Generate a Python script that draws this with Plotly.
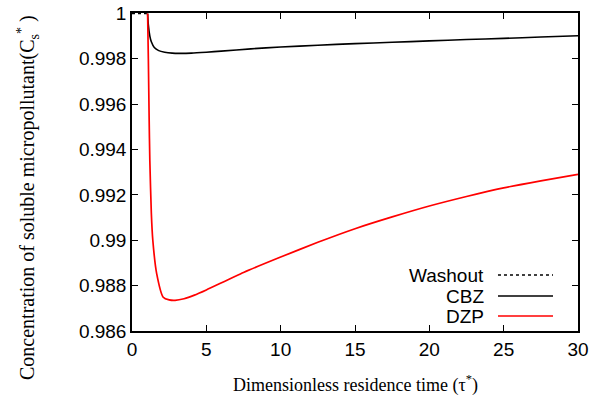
import plotly.graph_objects as go

# ---- data ----
washout_tau = [0.0, 1.0]
washout_c = [1.0, 1.0]

cbz_tau = [1.05, 1.1, 1.2, 1.3, 1.5, 1.8, 2.2, 2.7, 3.2, 4.0, 5.0, 6.0, 8.0, 10.0, 12.5, 15.0,
           17.5, 20.0, 22.5, 25.0, 27.5, 30.0]
cbz_c = [1.0, 0.9995, 0.9990, 0.99875, 0.99850, 0.99836, 0.99829, 0.99825, 0.99824, 0.99825,
         0.99829, 0.99834, 0.99844, 0.99852, 0.99860, 0.99867, 0.99873, 0.99879, 0.99885,
         0.99890, 0.99896, 0.99902]

dzp_tau = [1.05, 1.1, 1.15, 1.2, 1.3, 1.4, 1.66, 2.1, 2.5, 2.9, 3.5, 4.2, 5.0, 7.5, 10.0,
           12.5, 15.0, 17.5, 20.0, 22.5, 25.0, 27.5, 30.0]
dzp_c = [1.0, 0.998, 0.9955, 0.9935, 0.9912, 0.9900, 0.98853, 0.98749, 0.98737, 0.98735, 0.98742,
         0.98758, 0.98781, 0.98858, 0.98926, 0.98991, 0.99051, 0.99103, 0.99151, 0.99193,
         0.99231, 0.99262, 0.99291]

x_ticks = [0, 5, 10, 15, 20, 25, 30]
y_ticks = [0.986, 0.988, 0.99, 0.992, 0.994, 0.996, 0.998, 1.0]
y_ticktext = ["0.986", "0.988", "0.99", "0.992", "0.994", "0.996", "0.998", "1"]

legend_names = ["Washout", "CBZ", "DZP"]
legend_colors = ["black", "black", "#ff0000"]
legend_dash = ["dot", "solid", "solid"]

fig = go.Figure()
fig.add_trace(go.Scatter(x=washout_tau, y=washout_c, mode="lines",
                         line=dict(color="black", width=1.5, dash="dot"), name="Washout"))
fig.add_trace(go.Scatter(x=cbz_tau, y=cbz_c, mode="lines",
                         line=dict(color="black", width=1.6, shape="spline", smoothing=0.6),
                         name="CBZ"))
fig.add_trace(go.Scatter(x=dzp_tau, y=dzp_c, mode="lines",
                         line=dict(color="#ff0000", width=1.7, shape="spline", smoothing=0.6),
                         name="DZP"))

# manual gnuplot-style legend (text left, sample right)
rows_y = [0.176, 0.110, 0.047]
for name, col, dash, yy in zip(legend_names, legend_colors, legend_dash, rows_y):
    fig.add_annotation(xref="paper", yref="paper", x=0.7937, y=yy, text=name, showarrow=False,
                       xanchor="right", yanchor="middle",
                       font=dict(family="Liberation Sans, Arial", size=19, color="black"))
    fig.add_shape(type="line", xref="paper", yref="paper", x0=0.8206, x1=0.944, y0=yy, y1=yy,
                  line=dict(color=col, width=1.6, dash=dash))

fig.add_annotation(xref="paper", yref="paper", x=(355 - 132) / 446, y=(331 - 384) / 318,
                   text="Dimensionless residence time (τ<sup>*</sup>)", showarrow=False,
                   xanchor="center", yanchor="middle",
                   font=dict(family="Liberation Serif, Times New Roman", size=18, color="black"))
fig.add_annotation(xref="paper", yref="paper", x=(28 - 132) / 446, y=(331 - 198) / 318,
                   text="Concentration of soluble micropollutant(C<sub>s</sub><sup>*</sup> )",
                   showarrow=False, textangle=-90, xanchor="center", yanchor="middle",
                   font=dict(family="Liberation Serif, Times New Roman", size=20, color="black"))

axis_common = dict(showgrid=False, zeroline=False, showline=True, linecolor="black", linewidth=1.5,
                   mirror="ticks", ticks="inside", ticklen=6, tickwidth=1, tickcolor="black",
                   automargin=False,
                   tickfont=dict(family="Liberation Sans, Arial", size=19, color="black"))
fig.update_xaxes(range=[0, 30], tickvals=x_ticks, **axis_common)
fig.update_yaxes(range=[0.986, 1.00002], tickvals=y_ticks, ticktext=y_ticktext, **axis_common)

fig.update_layout(width=600, height=401, margin=dict(l=132, r=22, t=13, b=70, autoexpand=False),
                  paper_bgcolor="white", plot_bgcolor="white", showlegend=False)

fig.write_html("out.html")
